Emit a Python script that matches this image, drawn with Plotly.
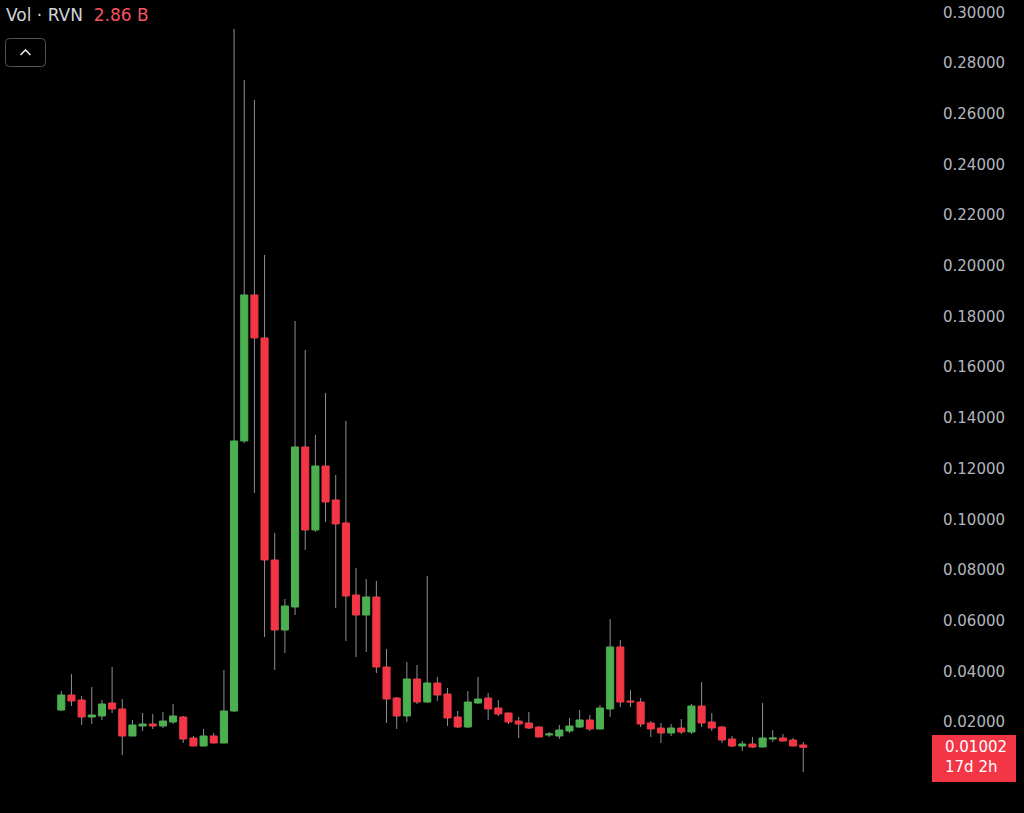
import plotly.graph_objects as go

# RVN candles (prices in USDT)
candle_idx = list(range(74))
opens = [
    0.02474, 0.03066, 0.02869, 0.02198, 0.02238, 0.02751, 0.02514, 0.01448, 0.01843, 0.01922,
    0.01843, 0.02001, 0.02198, 0.01369, 0.01054, 0.01448, 0.01172, 0.02435, 0.13090, 0.18852,
    0.17155, 0.08394, 0.05631, 0.06539, 0.12853, 0.09578, 0.12103, 0.10762, 0.09854, 0.07013,
    0.06223, 0.06934, 0.04171, 0.02948, 0.02238, 0.03698, 0.02790, 0.03540, 0.03106, 0.02198,
    0.01803, 0.02751, 0.02948, 0.02553, 0.02356, 0.02040, 0.01961, 0.01803, 0.01488, 0.01448,
    0.01646, 0.01803, 0.02080, 0.01725, 0.02514, 0.04961, 0.02830, 0.02790, 0.01961, 0.01764,
    0.01567, 0.01764, 0.01606, 0.02632, 0.02001, 0.01803, 0.01330, 0.01054, 0.01133, 0.01014,
    0.01330, 0.01369, 0.01290, 0.01093,
]
highs = [
    0.03224, 0.03895, 0.03027, 0.03382, 0.02869, 0.04171, 0.02908, 0.02080, 0.02356, 0.02317,
    0.02395, 0.02711, 0.02238, 0.01448, 0.01725, 0.01567, 0.04053, 0.29349, 0.27336, 0.26547,
    0.20430, 0.09459, 0.06855, 0.17826, 0.16681, 0.13327, 0.14984, 0.11748, 0.13879, 0.08078,
    0.07644, 0.07565, 0.04882, 0.02987, 0.04369, 0.04250, 0.07762, 0.03777, 0.03343, 0.02435,
    0.03224, 0.03777, 0.03145, 0.02869, 0.02370, 0.02198, 0.02395, 0.01843, 0.01606, 0.01882,
    0.02159, 0.02474, 0.02277, 0.02672, 0.06066, 0.05237, 0.03264, 0.02948, 0.02040, 0.01961,
    0.01922, 0.02119, 0.02711, 0.03579, 0.02356, 0.01843, 0.01448, 0.01251, 0.01409, 0.02751,
    0.01685, 0.01527, 0.01369, 0.01212,
]
lows = [
    0.02435, 0.02632, 0.01882, 0.01922, 0.02080, 0.02356, 0.00698, 0.01440, 0.01646, 0.01725,
    0.01764, 0.01922, 0.01172, 0.01040, 0.01040, 0.01160, 0.01160, 0.02396, 0.13011, 0.11038,
    0.05355, 0.04053, 0.04724, 0.06223, 0.08789, 0.09499, 0.09893, 0.06500, 0.05197, 0.04566,
    0.04763, 0.03934, 0.01961, 0.01725, 0.02001, 0.02711, 0.02751, 0.02830, 0.01843, 0.01764,
    0.01764, 0.02711, 0.02080, 0.02238, 0.01922, 0.01369, 0.01725, 0.01400, 0.01409, 0.01330,
    0.01567, 0.01764, 0.01646, 0.01710, 0.02198, 0.02593, 0.02593, 0.01803, 0.01409, 0.01172,
    0.01448, 0.01527, 0.01527, 0.01803, 0.01646, 0.01172, 0.01014, 0.00856, 0.00975, 0.01000,
    0.01212, 0.01240, 0.01040, 0.00020,
]
closes = [
    0.03066, 0.02830, 0.02198, 0.02277, 0.02711, 0.02514, 0.01448, 0.01882, 0.01922, 0.01843,
    0.02040, 0.02238, 0.01330, 0.01054, 0.01448, 0.01172, 0.02435, 0.13090, 0.18852, 0.17155,
    0.08394, 0.05631, 0.06579, 0.12853, 0.09578, 0.12103, 0.10683, 0.09815, 0.06973, 0.06223,
    0.06934, 0.04171, 0.02908, 0.02238, 0.03698, 0.02790, 0.03540, 0.03066, 0.02159, 0.01803,
    0.02790, 0.02908, 0.02514, 0.02317, 0.02001, 0.01922, 0.01764, 0.01409, 0.01527, 0.01685,
    0.01843, 0.02080, 0.01725, 0.02553, 0.04961, 0.02790, 0.02790, 0.01922, 0.01725, 0.01567,
    0.01764, 0.01606, 0.02632, 0.01961, 0.01764, 0.01290, 0.01054, 0.01133, 0.01014, 0.01369,
    0.01369, 0.01251, 0.01054, 0.01002,
]

price_ticks = [0.02, 0.04, 0.06, 0.08, 0.10, 0.12, 0.14, 0.16, 0.18, 0.20, 0.22, 0.24, 0.26, 0.28, 0.30]
vol_label = "Vol · RVN"
vol_value = "2.86 B"
countdown = "17d 2h"

UP = "#4caf50"
DOWN = "#f23645"
WICK = "#8c8f96"
TEXT = "#b2b5be"

body_top = [max(o, c) for o, c in zip(opens, closes)]
body_bot = [min(o, c) for o, c in zip(opens, closes)]

# wicks drawn as two grey segments so they don't cross the bodies
wick_x, wick_y = [], []
for i, h, l, t, b in zip(candle_idx, highs, lows, body_top, body_bot):
    wick_x += [i, i, None, i, i, None]
    wick_y += [h, t, None, b, l, None]

fig = go.Figure()
fig.add_trace(go.Scatter(
    x=wick_x, y=wick_y, mode="lines",
    line=dict(color=WICK, width=1),
    hoverinfo="skip", showlegend=False,
))
fig.add_trace(go.Candlestick(
    x=candle_idx, open=opens, high=body_top, low=body_bot, close=closes,
    increasing=dict(line=dict(color=UP, width=1), fillcolor=UP),
    decreasing=dict(line=dict(color=DOWN, width=1), fillcolor=DOWN),
    showlegend=False,
))

# toggle button in the top-left corner
fig.add_shape(
    type="path", xref="paper", yref="paper", xsizemode="pixel", ysizemode="pixel",
    xanchor=0, yanchor=1,
    path="M 9.5,-38.5 L 41.5,-38.5 Q 45.5,-38.5 45.5,-42.5 L 45.5,-62.5 Q 45.5,-66.5 41.5,-66.5 "
         "L 9.5,-66.5 Q 5.5,-66.5 5.5,-62.5 L 5.5,-42.5 Q 5.5,-38.5 9.5,-38.5 Z",
    line=dict(color="#50535c", width=1),
)
fig.add_shape(
    type="path", xref="paper", yref="paper", xsizemode="pixel", ysizemode="pixel",
    xanchor=0, yanchor=1,
    path="M 20.5,-55 L 25.5,-50 L 30.5,-55",
    line=dict(color="#e0e3eb", width=1.6),
)

# last price badge on the price scale
fig.add_shape(
    type="rect", xref="paper", yref="paper", xsizemode="pixel", ysizemode="pixel",
    xanchor=1, yanchor=0, x0=2, x1=86, y0=31, y1=78,
    fillcolor=DOWN, line=dict(width=0), layer="above",
)
fig.add_annotation(
    xref="paper", yref="y", x=1, y=closes[-1], xanchor="left", yanchor="middle",
    xshift=13, text=f"{closes[-1]:.5f}", showarrow=False,
    font=dict(family="DejaVu Sans", size=15, color="white"),
)
fig.add_annotation(
    xref="paper", yref="y", x=1, y=closes[-1], xanchor="left", yanchor="middle",
    xshift=13, yshift=-20, text=countdown, showarrow=False,
    font=dict(family="DejaVu Sans", size=15, color="white"),
)

fig.add_annotation(
    xref="paper", yref="paper", x=0, y=1, xanchor="left", yanchor="top",
    xshift=4, yshift=-3, showarrow=False,
    text=f"{vol_label}  <span style='color:#f7525f'>{vol_value}</span>",
    font=dict(family="DejaVu Sans", size=17, color="#d1d4dc"),
)

fig.update_layout(
    width=1024, height=813,
    paper_bgcolor="#000000", plot_bgcolor="#000000",
    margin=dict(l=0, r=94, t=0, b=0),
    boxgap=0.3, boxgroupgap=0,
    showlegend=False,
    xaxis=dict(
        range=[-6.03, 85.47], visible=False, showgrid=False,
        rangeslider=dict(visible=False),
    ),
    yaxis=dict(
        side="right", range=[-0.0159, 0.3049],
        tickvals=price_ticks, tickformat=".5f",
        showgrid=False, zeroline=False, showline=False,
        ticks="", ticklabelstandoff=12,
        tickfont=dict(family="DejaVu Sans", size=15, color=TEXT),
    ),
)

# drop the page's default body margin so the chart fills the window
fig.write_html(
    "out.html",
    config={"displayModeBar": False},
    post_script="document.body.style.margin='0';document.body.style.background='#000';",
)
